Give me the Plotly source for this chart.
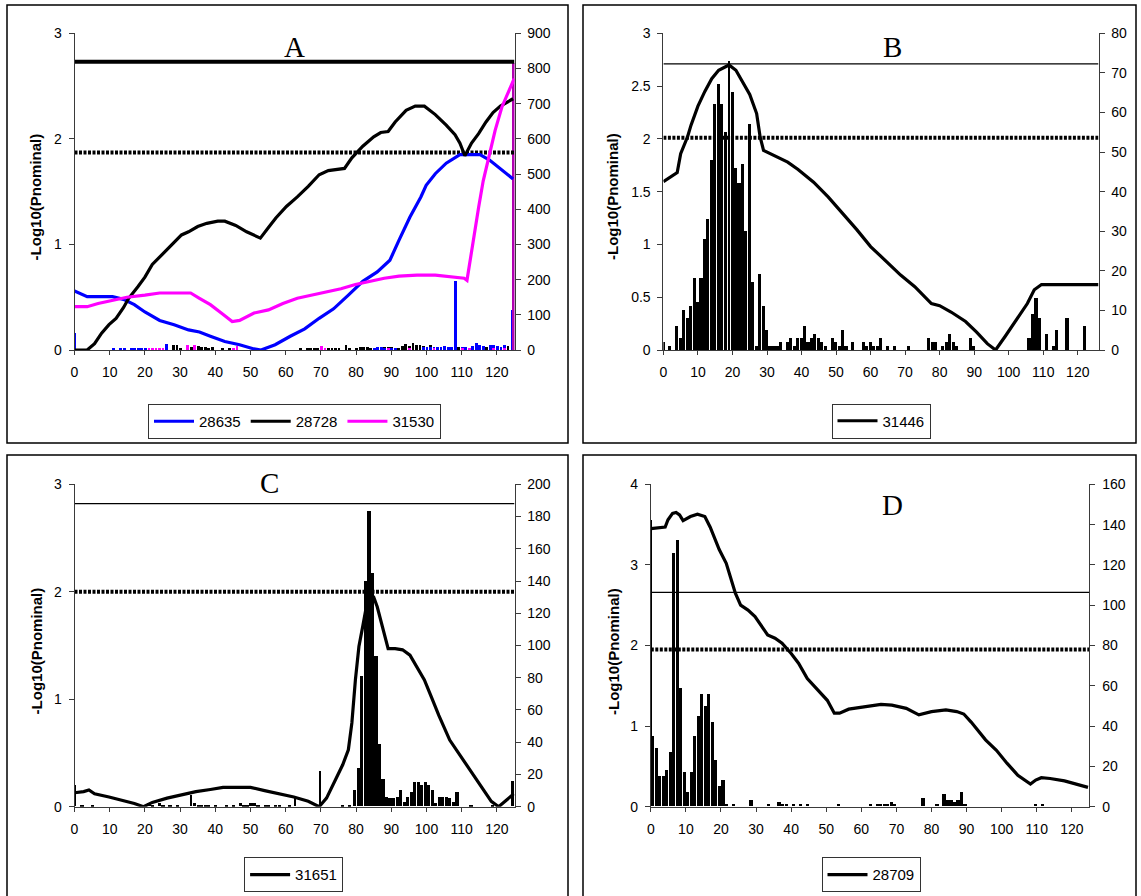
import plotly.graph_objects as go

FIG_W, FIG_H = 1141, 896
SANS = "Liberation Sans"
SERIF = "Liberation Serif"

# ---------------- Panel A : three series ----------------
a_x_28635 = [0, 3.6, 10.8, 13.9, 17.0, 20.0, 24.2, 28.3, 32.4, 35.5, 38.6, 42.7, 46.9, 51.0, 53.0,
             57.0, 61.3, 65.4, 69.5, 73.6, 77.8, 81.9, 86.0, 89.6, 92.2, 95.3, 98.4, 99.9, 102.5,
             105.6, 109.5, 115.2, 117.9, 121.0, 124.6]
a_y_28635 = [0.56, 0.505, 0.505, 0.48, 0.43, 0.36, 0.28, 0.24, 0.19, 0.17, 0.13, 0.08, 0.05, 0.01, 0.0,
             0.05, 0.13, 0.20, 0.30, 0.39, 0.52, 0.65, 0.74, 0.85, 1.04, 1.26, 1.45, 1.56, 1.67,
             1.77, 1.85, 1.85, 1.80, 1.72, 1.62]

a_x_28728 = [0, 3.6, 5.7, 7.7, 9.8, 11.8, 13.9, 15.4, 18.0, 20.0, 22.1, 24.2, 26.3, 28.3, 30.4,
             32.4, 35.0, 37.6, 40.7, 42.7, 45.8, 48.9, 52.8, 55.1, 57.2, 60.2, 63.3, 66.4, 69.5,
             72.1, 76.7, 78.8, 81.9, 85.0, 87.0, 89.1, 91.1, 94.2, 96.8, 99.4, 102.5, 105.6, 108.1,
             109.5, 110.9, 112.8, 114.8, 116.9, 118.9, 121.0, 123.1, 124.6]
a_y_28728 = [0, 0, 0.06, 0.16, 0.24, 0.30, 0.40, 0.49, 0.60, 0.69, 0.81, 0.88, 0.95, 1.01, 1.09,
             1.12, 1.17, 1.20, 1.22, 1.22, 1.18, 1.12, 1.06, 1.16, 1.25, 1.36, 1.45, 1.55, 1.66,
             1.70, 1.72, 1.82, 1.93, 2.02, 2.06, 2.07, 2.16, 2.27, 2.31, 2.31, 2.23, 2.13, 2.04,
             1.96, 1.84, 1.96, 2.05, 2.16, 2.25, 2.31, 2.35, 2.38]

a_x_31530 = [0, 3.6, 6.7, 10.8, 14.9, 20.0, 24.2, 28.3, 33.0, 35.5, 38.6, 41.7, 44.8, 46.9, 51.0,
             55.1, 59.2, 63.3, 67.5, 71.6, 75.7, 79.8, 83.9, 88.0, 92.2, 97.3, 102.5, 106.6, 110.7,
             111.5, 113.3, 114.8, 116.1, 118.0, 119.5, 121.4, 123.7, 124.9]
a_y_31530 = [0.41, 0.41, 0.44, 0.47, 0.50, 0.52, 0.54, 0.54, 0.54, 0.49, 0.43, 0.35, 0.27, 0.28, 0.35,
             0.38, 0.44, 0.49, 0.52, 0.55, 0.58, 0.62, 0.65, 0.68, 0.70, 0.71, 0.71, 0.695, 0.68,
             0.66, 1.05, 1.35, 1.60, 1.87, 2.08, 2.30, 2.49, 2.57]

a_bar_pos_28635 = [11, 13, 14, 16, 17, 18, 19, 20, 26, 85, 86, 87, 88, 89, 90, 91, 99, 100, 101, 102,
                   103, 104, 105, 106, 107, 110, 111, 112, 113, 114, 115, 116, 118, 119, 120, 121, 122]
a_bar_cnt_28635 = [3, 3, 4, 5, 4, 5, 4, 3, 17, 6, 8, 7, 5, 6, 4, 5, 8, 9, 8, 9,
                   9, 8, 10, 9, 8, 8, 7, 6, 10, 18, 14, 10, 12, 14, 10, 9, 12]
a_bar_pos_28728 = [28, 29, 30, 33, 34, 35, 36, 37, 38, 39, 42, 44, 45, 64, 66, 67, 68, 69, 71, 72,
                   73, 74, 75, 77, 78, 80, 81, 82, 83, 84, 87, 88, 89, 90, 92, 93, 94, 95, 96, 97,
                   98, 99, 100, 101, 102, 103, 104, 105, 108, 109, 117, 121, 123]
a_bar_cnt_28728 = [12, 14, 6, 8, 6, 10, 9, 9, 5, 7, 5, 4, 6, 3, 3, 5, 5, 6, 3, 4,
                   4, 4, 3, 12, 3, 4, 8, 9, 8, 5, 5, 8, 7, 8, 6, 10, 15, 10, 20, 12,
                   14, 10, 9, 12, 8, 8, 9, 10, 13, 9, 8, 7, 10]
a_bar_pos_31530 = [0, 21, 22, 23, 24, 25, 32, 34, 45, 46, 70, 71, 89, 95, 102, 110, 112, 119, 122]
a_bar_cnt_31530 = [12, 5, 4, 4, 4, 5, 12, 14, 6, 10, 10, 4, 4, 4, 5, 5, 4, 5, 5]
a_spike_pos_28635 = [0, 108.2, 124.2]
a_spike_cnt_28635 = [47, 195, 114]
a_spike_pos_31530 = [124.6]
a_spike_cnt_31530 = [815]
a_thr_high, a_thr_low = 2.73, 1.87

# ---------------- Panel B ----------------
b_x_31446 = [0, 1.5, 4, 5, 7, 8, 10, 12, 14, 16, 19, 21, 23, 25, 27, 28, 29, 31, 33, 36, 39, 43.5,
             47.7, 52, 56, 60, 64.5, 68.7, 72.8, 77.6, 80, 83.3, 87.5, 90.7, 93.8, 96.2, 99, 102,
             105.4, 107.4, 109.5, 126]
b_y_31446 = [1.595, 1.63, 1.68, 1.86, 2.02, 2.13, 2.31, 2.45, 2.57, 2.65, 2.70, 2.65, 2.54, 2.42,
             2.24, 2.02, 1.89, 1.86, 1.83, 1.78, 1.71, 1.59, 1.45, 1.29, 1.14, 0.98, 0.84, 0.71,
             0.60, 0.44, 0.42, 0.36, 0.27, 0.17, 0.06, 0.0, 0.13, 0.27, 0.44, 0.57, 0.62, 0.62]
b_bar_pos = [0, 2, 4, 5, 6, 7, 8, 9, 10, 11, 12, 13, 14, 15, 16, 17, 18, 20, 21, 22, 23, 24, 25, 26,
             27, 28, 29, 30, 31, 32, 33, 34, 36, 37, 38, 39, 40, 41, 42, 43, 44, 45, 46, 47, 49, 50,
             51, 52, 53, 55, 58, 59, 60, 61, 62, 63, 65, 67, 71, 77, 78, 79, 81, 82, 83, 84, 85,
             89, 90, 106, 107, 108, 109, 111, 113, 114, 117, 122]
b_bar_cnt = [2, 1, 6, 3, 10, 8, 11, 18, 12, 18, 28, 33, 48, 62, 67, 62, 55, 65, 46, 42, 47, 30, 57, 17,
             1, 19, 11, 5, 1, 1, 1, 2, 2, 3, 1, 3, 3, 6, 2, 3, 4, 3, 2, 1, 3, 2,
             1, 5, 1, 2, 2, 1, 2, 1, 1, 3, 1, 1, 1, 3, 2, 2, 1, 2, 4, 2, 1,
             3, 1, 3, 9, 13, 8, 4, 1, 5, 8, 6]
b_spike_pos = [19.2]
b_spike_cnt = [73]
b_thr_high, b_thr_low = 2.71, 2.01

# ---------------- Panel C ----------------
c_x_31651 = [0, 2.6, 4.1, 5.7, 9.8, 13.9, 17.0, 19.6, 22.1, 26.3, 30.4, 34.5, 38.6, 42.2, 45.8, 50.0,
             54.0, 58.2, 62.3, 66.4, 69.5, 71.6, 73.6, 76.2, 77.8, 78.8, 79.8, 80.8, 81.9, 82.9, 83.9,
             85.0, 86.0, 87.0, 88.0, 89.1, 91.1, 93.2, 95.3, 97.3, 99.4, 101.4, 103.5, 106.6, 109.7,
             112.8, 115.9, 118.4, 120.5, 122.6, 124.8]
c_y_31651 = [0.13, 0.14, 0.155, 0.12, 0.09, 0.06, 0.03, 0.0, 0.04, 0.08, 0.11, 0.14, 0.16, 0.18, 0.18, 0.18,
             0.15, 0.12, 0.09, 0.05, 0.0, 0.08, 0.22, 0.39, 0.53, 0.78, 1.18, 1.49, 1.68, 1.86, 1.99,
             1.95, 1.86, 1.74, 1.61, 1.47, 1.47, 1.46, 1.41, 1.30, 1.18, 1.02, 0.85, 0.62, 0.47,
             0.33, 0.17, 0.05, 0.0, 0.06, 0.12]
c_bar_pos = [2, 5, 21, 22, 24, 25, 27, 29, 34, 35, 36, 37, 38, 40, 43, 45, 47, 48, 49, 50,
             51, 52, 54, 55, 57, 58, 61, 76, 78, 79.5, 80.5, 81.5, 82.5, 83.5, 84.5, 85.5, 86.5, 87.5,
             88.5, 89.5, 90.5, 91.5, 92.5, 93.5, 94.5, 95.5, 96.5, 97.5, 98.5, 99.5, 100.5, 101.5,
             102.5, 103.5, 104.5, 105.5, 106.5, 107.5, 108.5, 112.5, 118.5]
c_bar_cnt = [1, 1, 2, 1, 2, 1, 1, 1, 2, 1, 1, 1, 1, 1, 1, 1, 2, 1, 1, 2,
             2, 1, 1, 1, 1, 1, 1, 1, 1, 10, 24, 81, 140, 183, 145, 93, 39, 17,
             6, 5, 5, 6, 10, 3, 6, 9, 15, 15, 13, 15, 13, 10,
             2, 6, 6, 6, 5, 3, 9, 1, 1]
c_spike_pos = [0, 33, 62.5, 69.6, 124.4]
c_spike_cnt = [13, 7, 5, 22, 16]
c_thr_high, c_thr_low = 2.82, 2.0

# ---------------- Panel D ----------------
d_x_28709 = [0, 4.1, 4.9, 6.2, 7.2, 8.2, 9.2, 11.3, 13.3, 15.4, 16.9, 18.5, 19.5, 21.5, 22.6, 24.1,
             25.6, 27.7, 29.7, 31.8, 33.3, 35.4, 37.4, 40.0, 42.1, 44.6, 47.2, 50.3, 52.3, 53.8,
             56.4, 59.5, 61.5, 65.6, 68.7, 72.8, 76.4, 80.0, 84.1, 87.2, 89.2, 91.3, 95.4, 98.5,
             101.5, 104.6, 108.2, 109.7, 111.3, 113.8, 117.9, 122.1, 124.6]
d_y_28709 = [3.45, 3.47, 3.56, 3.64, 3.65, 3.62, 3.55, 3.60, 3.63, 3.60, 3.47, 3.31, 3.19, 3.02, 2.85,
             2.65, 2.50, 2.44, 2.36, 2.23, 2.13, 2.09, 2.03, 1.90, 1.78, 1.59, 1.47, 1.32, 1.16,
             1.16, 1.21, 1.23, 1.25, 1.27, 1.26, 1.22, 1.14, 1.18, 1.20, 1.18, 1.15, 1.05, 0.83,
             0.70, 0.54, 0.39, 0.28, 0.33, 0.36, 0.35, 0.32, 0.27, 0.24]
d_bar_pos = [0.5, 1.5, 2.5, 3.5, 4.5, 5.5, 6.5, 7.5, 8.5, 9.5, 10.5, 11.5, 12.5, 13.5, 14.5, 15.5,
             16.5, 17.5, 18.5, 19.5, 20.5, 21.5, 23.5, 28.5, 33.5, 36.5, 37.5, 38.5, 40.5, 42.5,
             44.5, 53.5, 62.5, 64.5, 65.5, 66.5, 67.5, 68.5, 69.5, 77.5, 81.5, 83.5, 84.5, 85.5,
             86.5, 87.5, 88.5, 89.5, 109.5, 111.5]
d_bar_cnt = [35, 29, 15, 15, 18, 27, 126, 132, 59, 17, 7, 17, 35, 45, 56, 50,
             56, 42, 23, 10, 13, 1, 1, 3, 1, 2, 1, 1, 1, 1,
             1, 1, 1, 1, 1, 1, 1, 2, 1, 4, 1, 6, 3, 3,
             2, 3, 7, 1, 1, 1]
d_spike_pos = [0]
d_spike_cnt = [142]
d_thr_high, d_thr_low = 2.66, 1.95

x_ticks = list(range(0, 121, 10))

BLUE, BLACK, MAGENTA = "#0000FF", "#000000", "#FF00FF"
DOTTED = "3px,1.5px"

fig = go.Figure()


def line(xa, ya, xs, ys, color, name, legend, width=3.2):
    fig.add_trace(go.Scatter(x=xs, y=ys, mode="lines", name=name, legend=legend,
                             line=dict(color=color, width=width), xaxis=xa, yaxis=ya,
                             hoverinfo="skip"))


def bars(xa, ya, pos, cnt, color, width=0.9):
    fig.add_trace(go.Bar(x=pos, y=cnt, width=width, marker=dict(color=color, line=dict(width=0)),
                         xaxis=xa, yaxis=ya, showlegend=False, hoverinfo="skip"))


def threshold(xa, ya, xmax, level, width, dash):
    fig.add_trace(go.Scatter(x=[0, xmax], y=[level, level], mode="lines", showlegend=False,
                             line=dict(color="black", width=width, dash=dash),
                             xaxis=xa, yaxis=ya, hoverinfo="skip"))


# Panel A
bars("x", "y", a_bar_pos_28728, a_bar_cnt_28728, BLACK, 0.8)
bars("x", "y", a_bar_pos_28635, a_bar_cnt_28635, BLUE, 0.8)
bars("x", "y", a_bar_pos_31530, a_bar_cnt_31530, MAGENTA, 0.8)
bars("x", "y", a_spike_pos_28635, a_spike_cnt_28635, BLUE, 0.55)
bars("x", "y", a_spike_pos_31530, a_spike_cnt_31530, "#B000B0", 0.55)
threshold("x", "y2", 125, a_thr_high, 4, "solid")
threshold("x", "y2", 125, a_thr_low, 4, DOTTED)
line("x", "y2", a_x_28635, a_y_28635, BLUE, "28635", "legend")
line("x", "y2", a_x_28728, a_y_28728, BLACK, "28728", "legend")
line("x", "y2", a_x_31530, a_y_31530, MAGENTA, "31530", "legend")

# Panel B
bars("x2", "y3", b_bar_pos, b_bar_cnt, BLACK)
bars("x2", "y3", b_spike_pos, b_spike_cnt, BLACK, 0.5)
threshold("x2", "y4", 126, b_thr_high, 1.2, "solid")
threshold("x2", "y4", 126, b_thr_low, 4, DOTTED)
line("x2", "y4", b_x_31446, b_y_31446, BLACK, "31446", "legend2")

# Panel C
bars("x3", "y5", c_bar_pos, c_bar_cnt, BLACK)
bars("x3", "y5", c_spike_pos, c_spike_cnt, BLACK, 0.55)
threshold("x3", "y6", 125, c_thr_high, 1.2, "solid")
threshold("x3", "y6", 125, c_thr_low, 4, DOTTED)
line("x3", "y6", c_x_31651, c_y_31651, BLACK, "31651", "legend3")

# Panel D
bars("x4", "y7", d_bar_pos, d_bar_cnt, BLACK)
bars("x4", "y7", d_spike_pos, d_spike_cnt, BLACK, 0.6)
threshold("x4", "y8", 125, d_thr_high, 1.2, "solid")
threshold("x4", "y8", 125, d_thr_low, 4, DOTTED)
line("x4", "y8", d_x_28709, d_y_28709, BLACK, "28709", "legend4")


def px(v):
    return v / FIG_W


def py(v):
    return 1 - v / FIG_H


tick_font = dict(family=SANS, size=14, color="black")
AX_LINE = "#3a3a3a"


def x_axis(dom, anchor, xmax):
    return dict(domain=dom, anchor=anchor, range=[0, xmax], tickvals=x_ticks, ticks="outside",
                ticklen=4, tickcolor=AX_LINE, showline=True, linecolor=AX_LINE, linewidth=1,
                showgrid=False, zeroline=False, tickfont=tick_font, ticklabelstandoff=5,
                fixedrange=True, automargin=False)


def count_axis(dom, anchor, ymax, dtick):
    return dict(domain=dom, anchor=anchor, side="right", range=[0, ymax], dtick=dtick,
                ticks="outside", ticklen=5, tickcolor=AX_LINE, showline=True, linecolor=AX_LINE,
                linewidth=1, showgrid=False, zeroline=False, tickfont=tick_font,
                ticklabelstandoff=4, fixedrange=True, automargin=False)


def value_axis(base, anchor, ymax, dtick):
    return dict(overlaying=base, anchor=anchor, side="left", range=[0, ymax], dtick=dtick,
                ticks="outside", ticklen=5, tickcolor=AX_LINE, showline=True, linecolor=AX_LINE,
                linewidth=1, showgrid=False, zeroline=False, tickfont=tick_font,
                ticklabelstandoff=4, fixedrange=True, automargin=False)


top = [py(350), py(33.3)]
bottom = [py(806.7), py(484.3)]
dom_a = [px(74.5), px(514.5)]
dom_b = [px(663.4), px(1098.5)]
dom_c = [px(74.5), px(514.5)]
dom_d = [px(650.8), px(1089.4)]


def legend_box(xc, yc, horizontal=False):
    return dict(x=px(xc), y=py(yc), xanchor="center", yanchor="middle",
                orientation="h" if horizontal else "v", bgcolor="white",
                bordercolor="#333333", borderwidth=1, font=dict(family=SANS, size=15, color="black"),
                itemwidth=40, tracegroupgap=0)


panel_boxes = [(7, 5, 568, 443), (583, 5, 1136, 443), (7, 455, 568, 905), (583, 455, 1136, 905)]
shapes = [dict(type="rect", xref="paper", yref="paper", x0=px(x0), x1=px(x1), y0=py(y1), y1=py(y0),
               line=dict(color="black", width=1.5), fillcolor="rgba(0,0,0,0)", layer="below")
          for x0, y0, x1, y1 in panel_boxes]

annotations = []
for letter, (xc, yc) in zip("ABCD", [(294.5, 47), (892.7, 47), (269, 483), (892.7, 505)]):
    annotations.append(dict(text=letter, x=px(xc), y=py(yc), xref="paper", yref="paper",
                            showarrow=False, xanchor="center", yanchor="middle",
                            font=dict(family=SERIF, size=29, color="black")))
for xc, yc in [(36.4, 197), (613, 197), (36.4, 651), (613, 652)]:
    annotations.append(dict(text="<b>-Log10(Pnominal)</b>", x=px(xc), y=py(yc), xref="paper",
                            yref="paper", showarrow=False, textangle=-90, xanchor="center",
                            yanchor="middle", font=dict(family=SANS, size=15, color="black")))

fig.update_layout(
    width=FIG_W, height=FIG_H,
    margin=dict(l=0, r=0, t=0, b=0, pad=0, autoexpand=False),
    paper_bgcolor="white", plot_bgcolor="white", barmode="overlay", bargap=0,
    xaxis=x_axis(dom_a, "y", 125),
    yaxis=count_axis(top, "x", 900, 100),
    yaxis2=value_axis("y", "x", 3, 1),
    xaxis2=x_axis(dom_b, "y3", 126),
    yaxis3=count_axis(top, "x2", 80, 10),
    yaxis4=value_axis("y3", "x2", 3, 0.5),
    xaxis3=x_axis(dom_c, "y5", 125),
    yaxis5=count_axis(bottom, "x3", 200, 20),
    yaxis6=value_axis("y5", "x3", 3, 1),
    xaxis4=x_axis(dom_d, "y7", 125),
    yaxis7=count_axis(bottom, "x4", 160, 20),
    yaxis8=value_axis("y7", "x4", 4, 1),
    legend=legend_box(294.5, 421.5, horizontal=True),
    legend2=legend_box(881, 421),
    legend3=legend_box(293.6, 874.8),
    legend4=legend_box(871, 874.8),
    shapes=shapes,
    annotations=annotations,
    showlegend=True,
)

# keep the page flush with the window edges
fig.write_html("out.html", post_script="document.body.style.margin='0';")
